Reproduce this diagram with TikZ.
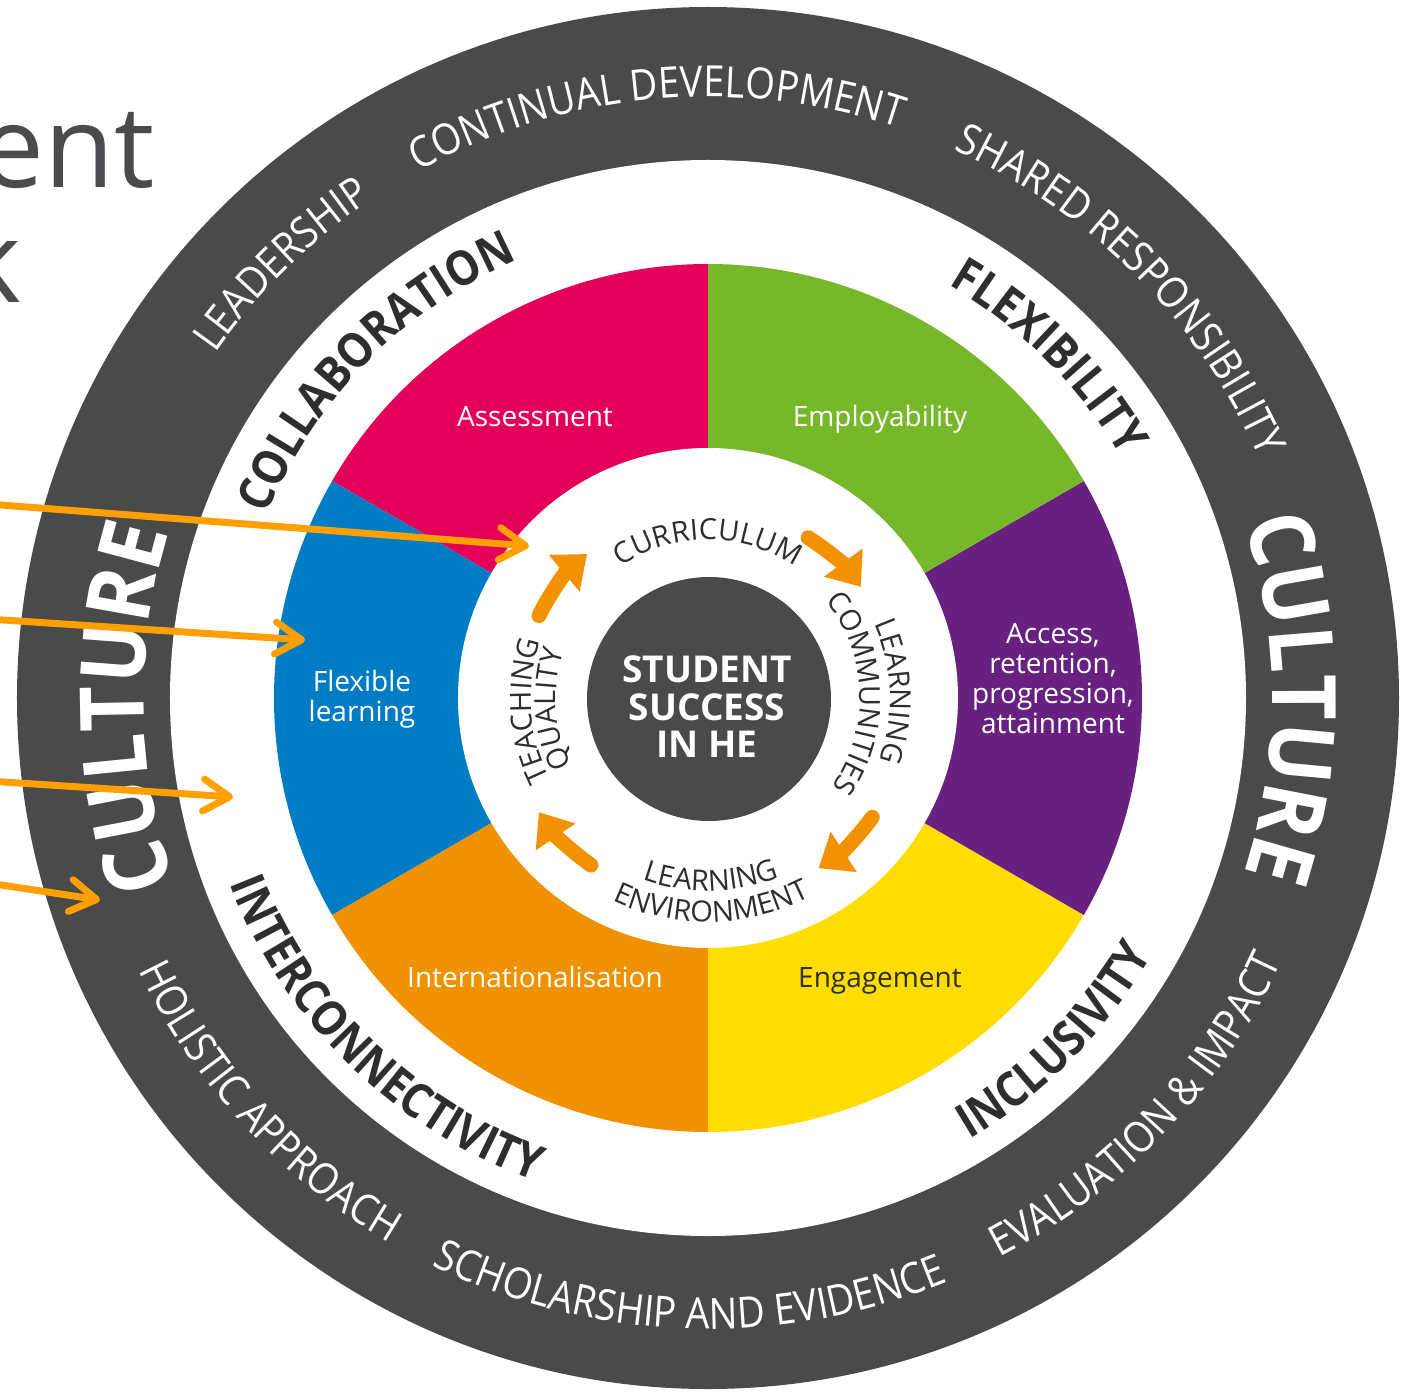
\documentclass[tikz,border=0pt]{standalone}
\usepackage{fontspec}
\setmainfont{Open Sans}
\newfontfamily\ringfont{Open Sans}[FakeStretch=0.89]
\usepackage{xcolor}
\usepackage{tikz}
\usetikzlibrary{arrows.meta,decorations.text}
\definecolor{ring}{HTML}{4A4A4A}
\definecolor{ink}{HTML}{2E2E2E}
\definecolor{heading}{HTML}{4B4B4D}
\definecolor{segpink}{HTML}{E4005A}
\definecolor{seggreen}{HTML}{76B82A}
\definecolor{segpurple}{HTML}{682181}
\definecolor{segyellow}{HTML}{FFDD00}
\definecolor{segorange}{HTML}{F09100}
\definecolor{segblue}{HTML}{007CC4}
\definecolor{arrowor}{HTML}{FFA000}
\definecolor{loopor}{HTML}{F29200}
\newcommand{\darkringfont}{\ringfont\fontsize{43}{43}\selectfont\color{white}}
\newcommand{\cultfont}{\ringfont\bfseries\fontsize{89}{89}\selectfont\color{white}}
\newcommand{\valuefont}{\ringfont\bfseries\fontsize{48}{48}\selectfont\color{ink}}
\newcommand{\innerfont}{\fontsize{29}{29}\selectfont\color{ink}}
\tikzset{
  pointer/.style={draw=arrowor, line width=7pt, line cap=round, -{Straight Barb[length=26pt, width=32pt, round]}},
  cyclearr/.style={draw=loopor, line width=15pt, line cap=round, -{Triangle[length=30pt, width=46pt]}},
  seclab/.style={text=white, font=\fontsize{28}{30}\selectfont, align=center},
  arctext/.style={decorate, decoration={text along path, text align=center, text={#1}}}
}
\begin{document}
\begin{tikzpicture}[x=1pt, y=1pt]
  \useasboundingbox (-708,-697) rectangle (705,698);
  \fill[white] (-708,-697) rectangle (705,698);

  % title, cut off by the page edge
  \node[anchor=base east, inner sep=0, text=heading, font=\fontsize{114}{114}\selectfont] (title1) at (-553,510) {ent};
  \node[anchor=base east, inner sep=0, text=heading, font=\fontsize{114}{114}\selectfont] (title2) at (-686,395) {k};

  % outer ring
  \fill[ring] (0,0) circle (691);
  \fill[white] (0,0) circle (538);

  % six sectors
  \fill[segpink] (0,0) -- (90:434) arc[start angle=90, end angle=150, radius=434] -- cycle;
  \fill[segblue] (0,0) -- (150:434) arc[start angle=150, end angle=210, radius=434] -- cycle;
  \fill[segorange] (0,0) -- (210:434) arc[start angle=210, end angle=270, radius=434] -- cycle;
  \fill[segyellow] (0,0) -- (270:434) arc[start angle=270, end angle=330, radius=434] -- cycle;
  \fill[segpurple] (0,0) -- (-30:434) arc[start angle=-30, end angle=30, radius=434] -- cycle;
  \fill[seggreen] (0,0) -- (30:434) arc[start angle=30, end angle=90, radius=434] -- cycle;

  \fill[white] (0,0) circle (250);
  \fill[ring] (1,-1) circle (122);

  \node[seclab, anchor=base] (assess) at (-173,271) {Assessment};
  \node[seclab, anchor=base] (employ) at (172,271) {Employability};
  \node[seclab] (access) at (345,19) {Access,\\retention,\\progression,\\attainment};
  \node[seclab, anchor=base, text=ink] (engage) at (172,-289) {Engagement};
  \node[seclab, anchor=base] (intl) at (-173,-289) {Internationalisation};
  \node[seclab] (flex) at (-346,-1) {Flexible\\learning};

  \node[text=white, font=\bfseries\fontsize{37}{37.5}\selectfont, align=center] (core) at (-1,-9) {STUDENT\\SUCCESS\\IN HE};

  % outer ring words
  \path[arctext={|\darkringfont|LEADERSHIP}] (204.5:601) arc[start angle=204.5, end angle=64.5, radius=601];
  \path[arctext={|\darkringfont|CONTINUAL DEVELOPMENT}] (165.1:601) arc[start angle=165.1, end angle=25.1, radius=601];
  \path[arctext={|\darkringfont|SHARED RESPONSIBILITY}] (114.7:601) arc[start angle=114.7, end angle=-25.3, radius=601];
  \path[arctext={|\darkringfont|EVALUATION {\&} IMPACT}] (-113.6:631) arc[start angle=-113.6, end angle=26.4, radius=631];
  \path[arctext={|\darkringfont|SCHOLARSHIP AND EVIDENCE}] (-161.8:631) arc[start angle=-161.8, end angle=-21.8, radius=631];
  \path[arctext={|\darkringfont|HOLISTIC APPROACH}] (-207.4:631) arc[start angle=-207.4, end angle=-67.4, radius=631];
  \path[arctext={|\cultfont|CULTURE}] (251:564) arc[start angle=251, end angle=111, radius=564];
  \path[arctext={|\cultfont|CULTURE}] (70:564) arc[start angle=70, end angle=-70, radius=564];

  % values ring
  \path[arctext={|\valuefont|COLLABORATION}] (205.5:478) arc[start angle=205.5, end angle=65.5, radius=478];
  \path[arctext={|\valuefont|FLEXIBILITY}] (115:478) arc[start angle=115, end angle=-25, radius=478];
  \path[arctext={|\valuefont|INCLUSIVITY}] (-114.7:513) arc[start angle=-114.7, end angle=25.3, radius=513];
  \path[arctext={|\valuefont|INTERCONNECTIVITY}] (-204.2:513) arc[start angle=-204.2, end angle=-64.2, radius=513];

  % inner cycle
  \path[arctext={|\innerfont|CURRICULUM}] (170:158) arc[start angle=170, end angle=10, radius=158];
  \path[arctext={|\innerfont|LEARNING}] (82:182) arc[start angle=82, end angle=-78, radius=182];
  \path[arctext={|\innerfont|COMMUNITIES}] (87:152) arc[start angle=87, end angle=-83, radius=152];
  \path[arctext={|\innerfont|LEARNING}] (191:193) arc[start angle=191, end angle=351, radius=193];
  \path[arctext={|\innerfont|ENVIRONMENT}] (191:224) arc[start angle=191, end angle=351, radius=224];
  \path[arctext={|\innerfont|TEACHING}] (264:177) arc[start angle=264, end angle=104, radius=177];
  \path[arctext={|\innerfont|QUALITY}] (264:152) arc[start angle=264, end angle=104, radius=152];

  \draw[cyclearr] (154:188) arc[start angle=154, end angle=130, radius=188];
  \draw[cyclearr] (58:189) arc[start angle=58, end angle=36, radius=189];
  \draw[cyclearr] (-36:203) arc[start angle=-36, end angle=-57, radius=203];
  \draw[cyclearr] (235:204) arc[start angle=235, end angle=214, radius=204];

  % pointers from the left
  \coordinate (p1s) at (-720,194);
  \coordinate (p1e) at (-179,152);
  \coordinate (p2s) at (-720,79);
  \coordinate (p2e) at (-403,58);
  \coordinate (p3s) at (-720,-83);
  \coordinate (p3e) at (-475,-99);
  \coordinate (p4s) at (-720,-185);
  \coordinate (p4e) at (-608,-202);
  \draw[pointer] (p1s) -- (p1e);
  \draw[pointer] (p2s) -- (p2e);
  \draw[pointer] (p3s) -- (p3e);
  \draw[pointer] (p4s) -- (p4e);
\end{tikzpicture}
\end{document}
